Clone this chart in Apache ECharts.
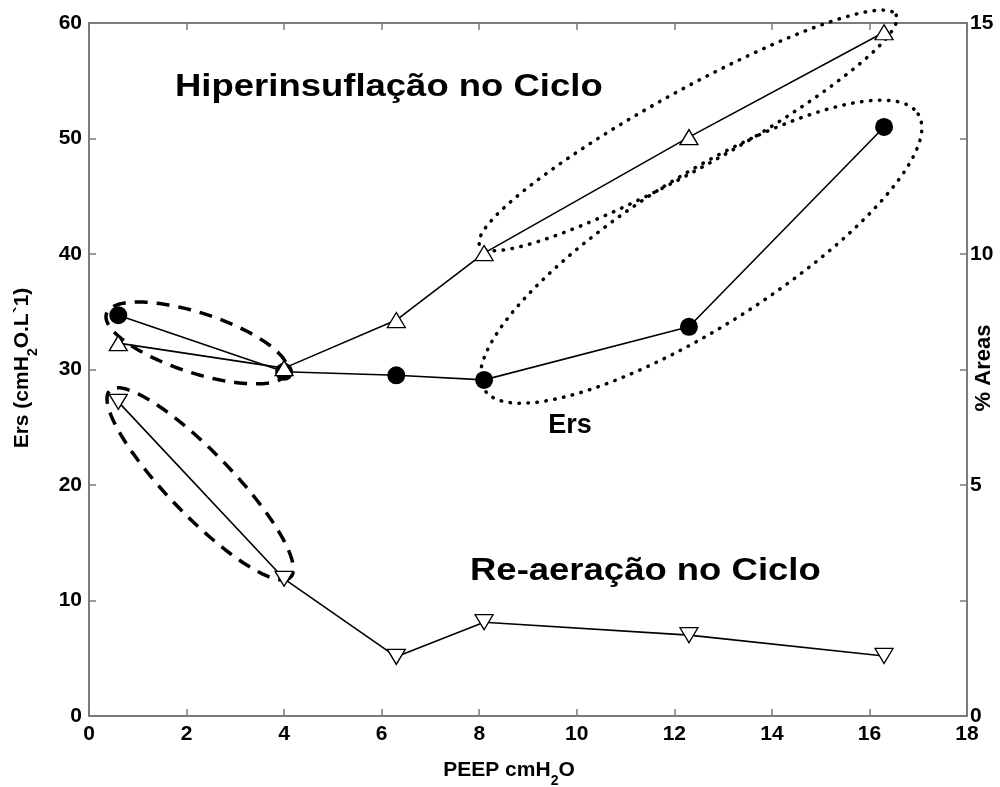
<!DOCTYPE html>
<html><head><meta charset="utf-8">
<script src="https://cdn.jsdelivr.net/npm/echarts@6/dist/echarts.min.js"></script>
<style>html,body{margin:0;padding:0;background:#fff}#c{width:1000px;height:787px}</style>
</head><body><div id="c"></div>
<script>
// ---- data ----
const peep   = [0.6, 4.0, 6.3, 8.1, 12.3, 16.3];          // PEEP cmH2O
const ers    = [34.7, 29.8, 29.5, 29.1, 33.7, 51.0];      // Ers (left axis)
const hiper  = [8.07, 7.53, 8.57, 10.02, 12.53, 14.8];    // % Areas hiperinsuflação (right axis)
const reaer  = [6.8, 2.97, 1.28, 2.03, 1.75, 1.3];        // % Areas re-aeração (right axis)
const xTicks = [0, 2, 4, 6, 8, 10, 12, 14, 16, 18];
const yLeftTicks  = [0, 10, 20, 30, 40, 50, 60];
const yRightTicks = [0, 5, 10, 15];

const FONT = '"Liberation Sans", Arial, sans-serif';
const AX = '#7a7a7a';
const pairs = ys => peep.map((x, i) => [x, ys[i]]);

// annotation ellipses (centre in Ers/PEEP units)
const ellipses = [
  {c: [2.21, 32.3], a: 95,  b: 30, t: 18,    dash: [13, 9]},
  {c: [2.28, 20.1], a: 130, b: 32, t: 46,    dash: [13, 9]},
  {c: [12.28, 50.7], a: 238, b: 39, t: -29,  dash: [0.5, 8.5]},
  {c: [12.55, 40.2], a: 257, b: 75, t: -32.4, dash: [0.5, 8.5]}
];

const chart = echarts.init(document.getElementById('c'), null, {renderer: 'canvas'});
const tickLbl = () => ({color: '#000', fontWeight: 'bold', fontSize: 21, fontFamily: FONT});
const axLine = () => ({show: true, onZero: false, lineStyle: {color: AX, width: 2}});
const tickIn = () => ({show: true, inside: true, length: 7, lineStyle: {color: AX, width: 1.5}});

chart.setOption({
  animation: false,
  backgroundColor: '#fff',
  grid: {left: 89, right: 33, top: 23, bottom: 71, containLabel: false},
  xAxis: [
    {type: 'value', min: xTicks[0], max: xTicks[xTicks.length - 1], interval: xTicks[1] - xTicks[0],
     position: 'bottom', axisLine: axLine(), axisTick: tickIn(), splitLine: {show: false},
     axisLabel: Object.assign({margin: 8}, tickLbl())},
    {type: 'value', min: xTicks[0], max: xTicks[xTicks.length - 1], interval: xTicks[1] - xTicks[0],
     position: 'top', axisLine: axLine(), axisTick: tickIn(), splitLine: {show: false},
     axisLabel: {show: false}}
  ],
  yAxis: [
    {type: 'value', min: yLeftTicks[0], max: yLeftTicks[yLeftTicks.length - 1], interval: yLeftTicks[1] - yLeftTicks[0],
     position: 'left', axisLine: axLine(), axisTick: tickIn(), splitLine: {show: false},
     axisLabel: Object.assign({margin: 7}, tickLbl())},
    {type: 'value', min: yRightTicks[0], max: yRightTicks[yRightTicks.length - 1], interval: yRightTicks[1] - yRightTicks[0],
     position: 'right', axisLine: axLine(), axisTick: tickIn(), splitLine: {show: false},
     axisLabel: Object.assign({margin: 3}, tickLbl())},
    {type: 'value', min: yLeftTicks[0], max: yLeftTicks[yLeftTicks.length - 1], interval: yLeftTicks[1] - yLeftTicks[0],
     position: 'right', axisLine: axLine(), axisTick: tickIn(), splitLine: {show: false},
     axisLabel: {show: false}}
  ],
  series: [
    {type: 'custom', xAxisIndex: 0, yAxisIndex: 0, silent: true, clip: false, z: 1,
     data: ellipses.map((e, i) => [e.c[0], e.c[1], i]),
     encode: {x: 0, y: 1},
     renderItem: function (params, api) {
       const e = ellipses[api.value(2)];
       const p = api.coord([api.value(0), api.value(1)]);
       const th = e.t * Math.PI / 180, pts = [];
       for (let k = 0; k <= 180; k++) {
         const s = k / 180 * Math.PI * 2;
         const u = e.a * Math.cos(s), v = e.b * Math.sin(s);
         pts.push([p[0] + u * Math.cos(th) - v * Math.sin(th), p[1] + u * Math.sin(th) + v * Math.cos(th)]);
       }
       return {type: 'polyline', shape: {points: pts},
               style: {fill: null, stroke: '#000', lineWidth: 3.5, lineDash: e.dash, lineCap: e.dash[0] < 1 ? 'round' : 'butt'}};
     }},
    {type: 'line', name: 'Ers', xAxisIndex: 0, yAxisIndex: 0, data: pairs(ers), z: 3,
     symbol: 'circle', symbolSize: 18, itemStyle: {color: '#000'},
     lineStyle: {color: '#000', width: 1.6}},
    {type: 'line', name: 'Hiperinsuflação', xAxisIndex: 0, yAxisIndex: 1, data: pairs(hiper), z: 3,
     symbol: 'triangle', symbolSize: [18, 15], itemStyle: {color: '#fff', borderColor: '#000', borderWidth: 1.3},
     lineStyle: {color: '#000', width: 1.6}},
    {type: 'line', name: 'Re-aeração', xAxisIndex: 0, yAxisIndex: 1, data: pairs(reaer), z: 3,
     symbol: 'triangle', symbolRotate: 180, symbolSize: [18, 15], itemStyle: {color: '#fff', borderColor: '#000', borderWidth: 1.3},
     lineStyle: {color: '#000', width: 1.6}}
  ],
  graphic: [
    {type: 'text', x: 175, y: 87, scaleX: 1.14, style: {text: 'Hiperinsuflação no Ciclo', verticalAlign: 'middle', font: 'bold 32px ' + FONT, fill: '#000'}},
    {type: 'text', x: 470, y: 571, scaleX: 1.14, style: {text: 'Re-aeração no Ciclo', verticalAlign: 'middle', font: 'bold 32px ' + FONT, fill: '#000'}},
    {type: 'text', x: 570, y: 426, style: {text: 'Ers', align: 'center', verticalAlign: 'middle', font: 'bold 27px ' + FONT, fill: '#000'}},
    {type: 'text', x: 509, y: 772, style: {
      text: '{b|PEEP cmH}{s|2}{b|O}', align: 'center', verticalAlign: 'middle',
      rich: {b: {font: 'bold 21px ' + FONT, fill: '#000', lineHeight: 24, verticalAlign: 'top'},
             s: {font: 'bold 14px ' + FONT, fill: '#000', lineHeight: 24, verticalAlign: 'top', padding: [14, 0, 0, 0]}}}},
    {type: 'text', x: 24, y: 368, rotation: Math.PI / 2, style: {
      text: '{b|Ers (cmH}{s|2}{b|O.L`1)}', align: 'center', verticalAlign: 'middle',
      rich: {b: {font: 'bold 21px ' + FONT, fill: '#000', lineHeight: 24, verticalAlign: 'top'},
             s: {font: 'bold 14px ' + FONT, fill: '#000', lineHeight: 24, verticalAlign: 'top', padding: [14, 0, 0, 0]}}}},
    {type: 'text', x: 984, y: 368, rotation: Math.PI / 2, style: {
      text: '% Areas', align: 'center', verticalAlign: 'middle', font: 'bold 22px ' + FONT, fill: '#000'}}
  ]
});
</script></body></html>
